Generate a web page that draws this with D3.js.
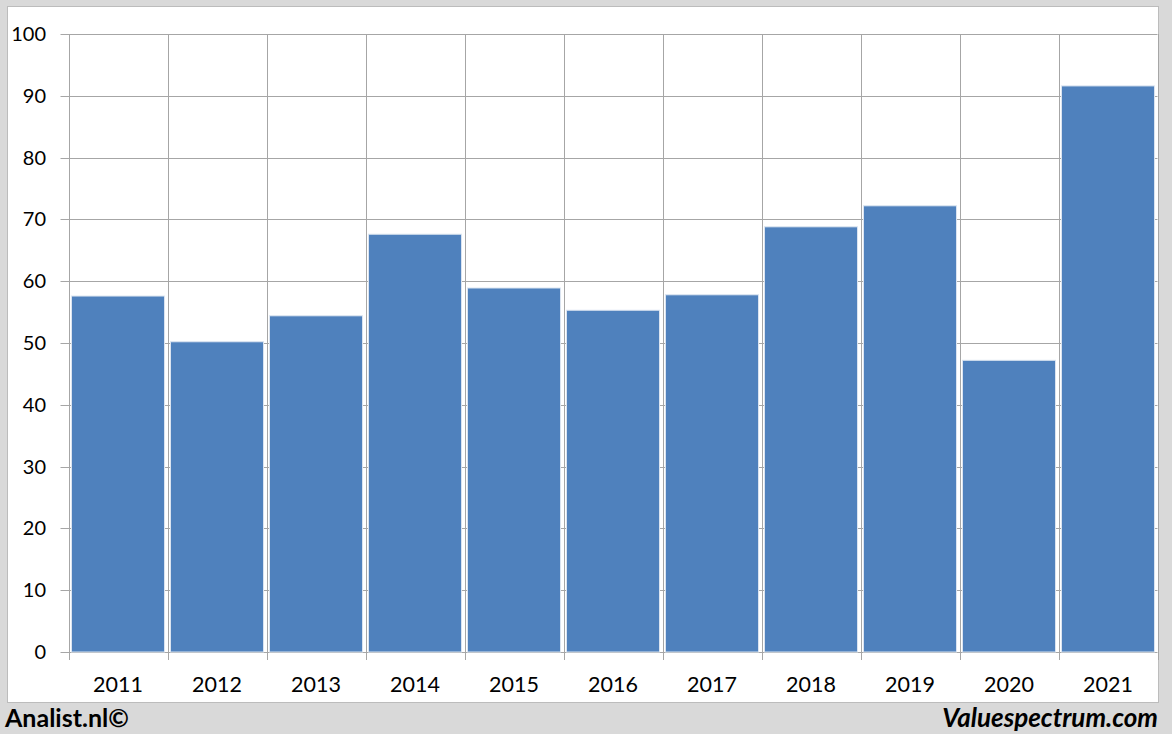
<!DOCTYPE html>
<html><head><meta charset="utf-8">
<script src="https://cdn.jsdelivr.net/npm/d3@7"></script>
<style>body{margin:0;background:#d9d9d9;}svg{display:block;}</style>
</head><body>
<svg id="chart" width="1172" height="734"></svg>
<script>
const categories = ["2011","2012","2013","2014","2015","2016","2017","2018","2019","2020","2021"];
const values = [57.6, 50.2, 54.4, 67.6, 58.9, 55.3, 57.8, 68.8, 72.2, 47.2, 91.6];
const yTicks = [0,10,20,30,40,50,60,70,80,90,100];

const svg = d3.select("#chart");
const font = "Lato, 'Open Sans', sans-serif";
svg.append("rect").attr("width",1172).attr("height",734).attr("fill","#d9d9d9");
svg.append("rect").attr("x",7.5).attr("y",6.5).attr("width",1151).attr("height",696)
  .attr("fill","#fff").attr("stroke","#bcbcbc");

const pLeft = 68.5, pRight = 1157.5, pTop = 34, pBottom = 652;
const x = d3.scaleBand().domain(categories).range([pLeft, pRight]).paddingInner(0.06).paddingOuter(0.03);
const xg = d3.scaleBand().domain(categories).range([pLeft, pRight]).padding(0);
const y = d3.scaleLinear().domain([0,100]).range([pBottom, pTop]);

const grid = "#a6a6a6";
svg.append("g").selectAll("line").data(yTicks).join("line")
  .attr("x1", pLeft-8).attr("x2", pRight)
  .attr("y1", d=>Math.round(y(d))+0.5).attr("y2", d=>Math.round(y(d))+0.5)
  .attr("stroke", grid).attr("stroke-width",1);
const vx = categories.map(c=>xg(c)).concat([pRight]);
svg.append("g").selectAll("line").data(vx).join("line")
  .attr("x1", d=>Math.round(d)+0.5).attr("x2", d=>Math.round(d)+0.5)
  .attr("y1", pTop).attr("y2", pBottom+8)
  .attr("stroke", grid).attr("stroke-width",1);

svg.append("g").selectAll("rect").data(values).join("rect")
  .attr("x", (d,i)=>x(categories[i]))
  .attr("width", x.bandwidth())
  .attr("y", d=>y(d))
  .attr("height", d=>pBottom - y(d))
  .attr("fill","#4f81bd").attr("stroke","#dbe5f1").attr("stroke-width",1);

svg.append("g").selectAll("text").data(yTicks).join("text")
  .attr("x", 46).attr("y", d=>y(d)).attr("dy","0.35em")
  .attr("text-anchor","end").attr("font-family",font).attr("font-size",20).attr("fill","#000")
  .text(d=>d);
svg.append("g").selectAll("text").data(categories).join("text")
  .attr("x", d=>xg(d)+xg.bandwidth()/2).attr("y", 692)
  .attr("text-anchor","middle").attr("font-family",font).attr("font-size",21.5).attr("fill","#000")
  .text(d=>d);

svg.append("text").attr("x",5).attr("y",727).attr("font-family",font).attr("font-weight","bold")
  .attr("font-size",25).attr("fill","#000").text("Analist.nl©");
svg.append("text").attr("x",1158).attr("y",727).attr("text-anchor","end").attr("font-family",font)
  .attr("font-weight","bold").attr("font-style","italic").attr("font-size",26).attr("fill","#000").text("Valuespectrum.com");
</script>
</body></html>
